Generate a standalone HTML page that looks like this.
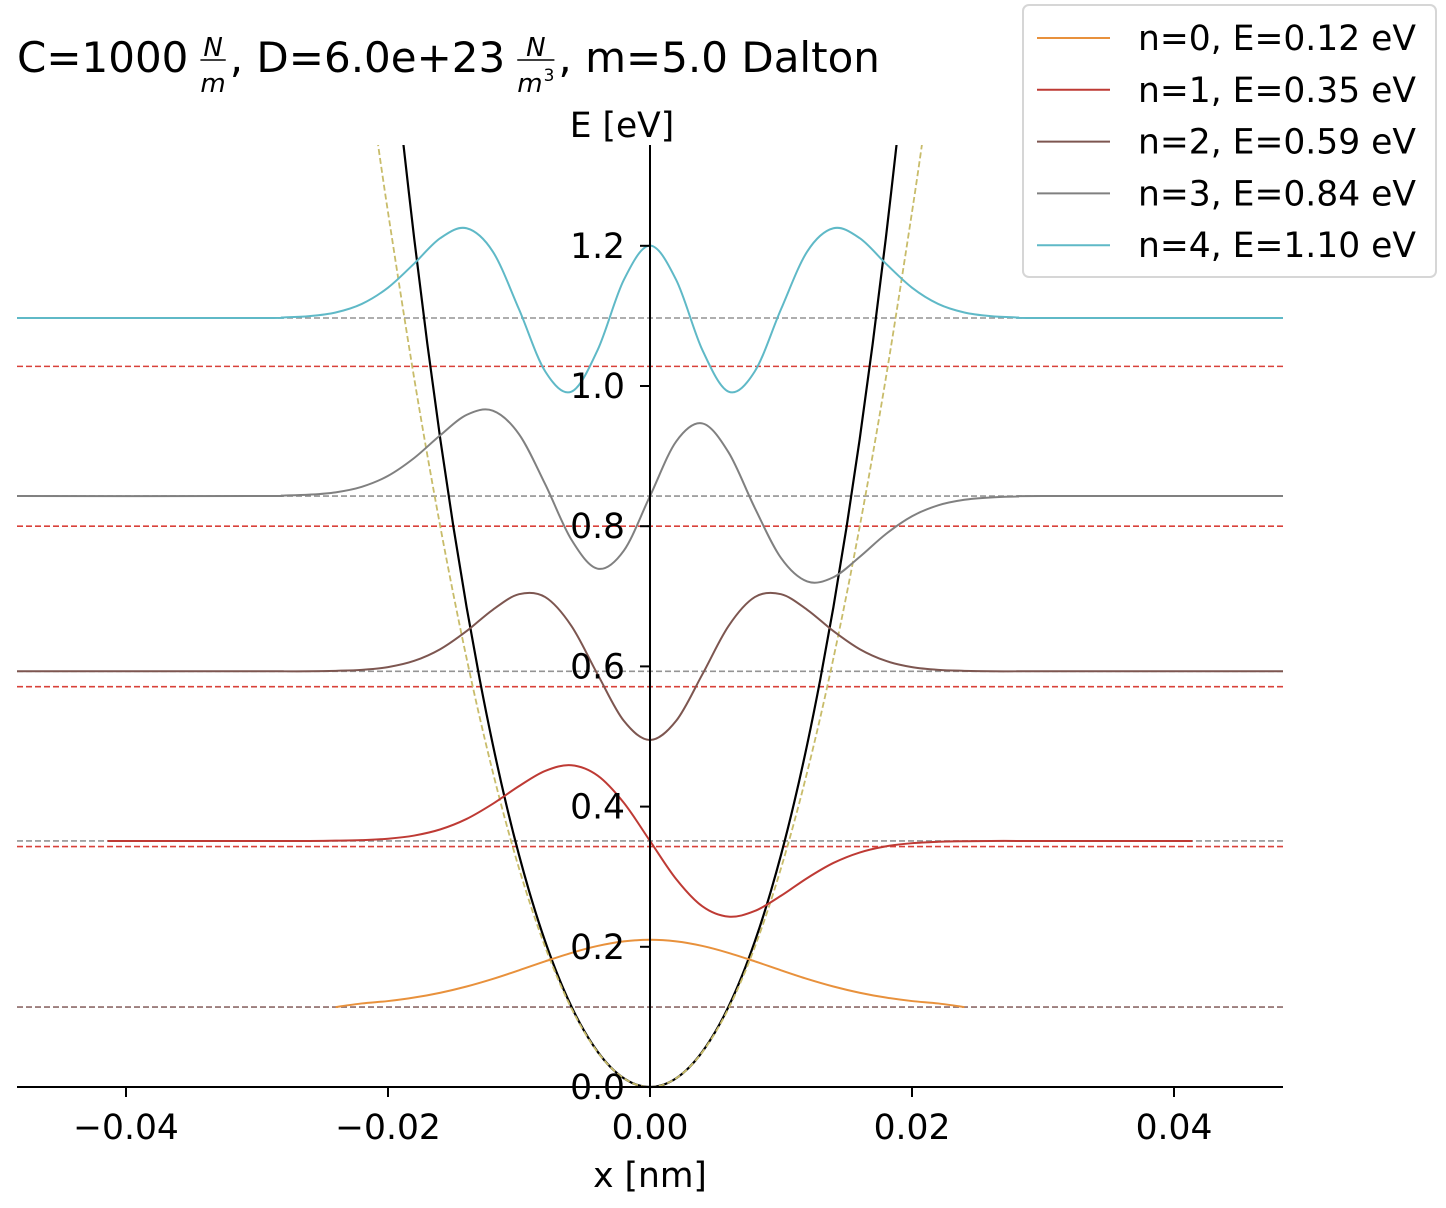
<!DOCTYPE html>
<html><head><meta charset="utf-8"><style>
html,body{margin:0;padding:0;background:#fff;}
svg{display:block;font-family:"DejaVu Sans","Liberation Sans",sans-serif;}
</style></head><body>
<svg id="chart" width="1446" height="1208" viewBox="0 0 1446 1208" xmlns="http://www.w3.org/2000/svg">
<defs><clipPath id="plotclip"><rect x="17" y="145" width="1266" height="950"/></clipPath></defs>
<g id="title"></g>
<g id="plot" clip-path="url(#plotclip)"></g>
<g id="axes"></g>
<g id="legend"></g>
</svg>
<script>
const NS='http://www.w3.org/2000/svg';
// ---- data ----
const levelNames=['n=0, E=0.12 eV','n=1, E=0.35 eV','n=2, E=0.59 eV','n=3, E=0.84 eV','n=4, E=1.10 eV'];
const levelColors=['#e8913c','#be3a34','#7d5650','#808080','#5fb9c7'];
const levelEnergies=[0.114,0.351,0.593,0.843,1.097];
const harmonicLevels=[0.114,0.343,0.571,0.800,1.028];
const waveX=[0,0.002,0.004,0.006,0.008,0.010,0.012,0.014,0.016,0.018,0.020,0.022,0.024,0.026,0.028,0.030];
const wave0=[0.096,0.0937,0.0872,0.0773,0.0653,0.0525,0.0402,0.0294,0.0205,0.0136,0.0086,0.0052,0.003];
const wave1=[0,-0.0545,-0.0933,-0.108,-0.0999,-0.0782,-0.053,-0.0314,-0.0165,-0.0077,-0.0032,-0.0012,-0.0004,0,0,0];
const wave2=[-0.098,-0.0706,-0.0043,0.0648,0.1059,0.110,0.0878,0.0574,0.0317,0.0149,0.006,0.0021,0.0007,0,0,0];
const wave3=[0,0.0779,0.1036,0.0622,-0.0169,-0.0883,-0.1218,-0.1158,-0.0869,-0.0543,-0.0288,-0.0132,-0.0053,-0.002,-0.0007,0];
const wave4=[0.1032,0.0543,-0.0457,-0.1051,-0.0761,0.0125,0.0948,0.128,0.114,0.0777,0.0433,0.0201,0.0079,0.0027,0.0008,0];
const waveSym=[1,-1,1,-1,1]; // parity
const waveExtent=[0.024,0.0414,0.0484,0.0484,0.0484];
const potX=[0,0.001,0.002,0.003,0.004,0.005,0.006,0.007,0.008,0.009,0.010,0.011,0.012,0.013,0.014,0.015,0.016,0.017,0.018,0.019];
const potAnh=[0,0.0031,0.0125,0.0282,0.0504,0.0792,0.1148,0.1575,0.2075,0.2652,0.331,0.4053,0.4887,0.5816,0.6845,0.7982,0.9232,1.0604,1.2104,1.3739];
const harmX=[0,0.002,0.004,0.006,0.008,0.010,0.012,0.014,0.016,0.018,0.020,0.021];
const potHarm=[0,0.0125,0.0499,0.1123,0.1997,0.312,0.4493,0.6115,0.7987,1.0109,1.248,1.376];
const xTicks=[-0.04,-0.02,0,0.02,0.04];
const xTickLabels=['\u22120.04','\u22120.02','0.00','0.02','0.04'];
const yTicks=[0,0.2,0.4,0.6,0.8,1.0,1.2];
const yTickLabels=['0.0','0.2','0.4','0.6','0.8','1.0','1.2'];
// ---- scales ----
const X=v=>650+v*13100;
const Y=v=>1087-v*701;
const FS=34.5;
const plot=document.getElementById('plot'),axes=document.getElementById('axes'),leg=document.getElementById('legend'),ttl=document.getElementById('title');
function mk(tag,attrs,parent){const e=document.createElementNS(NS,tag);for(const k in attrs)e.setAttribute(k,attrs[k]);parent.appendChild(e);return e;}
function smooth(pts){let d='M'+pts[0][0].toFixed(2)+','+pts[0][1].toFixed(2);
 for(let i=0;i<pts.length-1;i++){const p0=pts[i-1]||pts[i],p1=pts[i],p2=pts[i+1],p3=pts[i+2]||p2;
  const c1=[p1[0]+(p2[0]-p0[0])/6,p1[1]+(p2[1]-p0[1])/6],c2=[p2[0]-(p3[0]-p1[0])/6,p2[1]-(p3[1]-p1[1])/6];
  d+='C'+c1[0].toFixed(2)+','+c1[1].toFixed(2)+' '+c2[0].toFixed(2)+','+c2[1].toFixed(2)+' '+p2[0].toFixed(2)+','+p2[1].toFixed(2);}
 return d;}
function symPts(xs,ys,base,par,ext){const pts=[];
 pts.push([X(-ext),Y(base)]);
 for(let i=xs.length-1;i>0;i--){if(i<ys.length&&xs[i]<ext)pts.push([X(-xs[i]),Y(base+par*ys[i])]);}
 for(let i=0;i<ys.length;i++){if(xs[i]<ext)pts.push([X(xs[i]),Y(base+ys[i])]);}
 pts.push([X(ext),Y(base)]);return pts;}
// ---- title (flowed) ----
(function(){
 let cx=17;const by=72,tf=42,ff=26;
 function txt(s){const t=mk('text',{x:cx,y:by,'font-size':tf},ttl);t.textContent=s;cx+=t.getComputedTextLength();}
 function frac(num,den,sup){cx+=12;
  const d=mk('text',{x:cx,y:by+20,'font-size':ff,'font-style':'italic'},ttl);d.textContent=den;
  let w=d.getComputedTextLength();
  if(sup){const s=mk('text',{x:cx+w+1,y:by+9,'font-size':17},ttl);s.textContent=sup;w+=s.getComputedTextLength()+1;}
  const n=mk('text',{x:cx+w/2,y:by-16,'font-size':ff,'font-style':'italic','text-anchor':'middle'},ttl);n.textContent=num;
  mk('line',{x1:cx,x2:cx+w,y1:by-12,y2:by-12,stroke:'#000','stroke-width':1.6},ttl);
  cx+=w+4;}
 txt('C=1000');frac('N','m');txt(', D=6.0e+23');frac('N','m','3');txt(', m=5.0 Dalton');
})();
// harmonic dashed levels (red)
harmonicLevels.forEach((e,i)=>{
 const l=mk('line',{x1:17,x2:1283,y1:Y(e),y2:Y(e),stroke:'#d9413a','stroke-width':1.6,'stroke-dasharray':'6,3'},plot);
 
 
});
// gray dashed energy levels
levelEnergies.forEach((e,i)=>{
 const l=mk('line',{x1:17,x2:1283,y1:Y(e),y2:Y(e),stroke:'#888','stroke-width':1.6,'stroke-dasharray':'6,3','stroke-opacity':0.9},plot);
 
 
});
// potentials
const anh=[];for(let i=potX.length-1;i>0;i--)anh.push([X(-potX[i]),Y(potAnh[i])]);for(let i=0;i<potX.length;i++)anh.push([X(potX[i]),Y(potAnh[i])]);
const pa=mk('path',{d:smooth(anh),fill:'none',stroke:'#000','stroke-width':2.2},plot);


const har=[];for(let i=harmX.length-1;i>0;i--)har.push([X(-harmX[i]),Y(potHarm[i])]);for(let i=0;i<harmX.length;i++)har.push([X(harmX[i]),Y(potHarm[i])]);
const ph=mk('path',{d:smooth(har),fill:'none',stroke:'#c8bc6a','stroke-width':1.8,'stroke-dasharray':'6,3'},plot);


// wavefunctions
const waves=[wave0,wave1,wave2,wave3,wave4];
waves.forEach((w,i)=>{
 const p=mk('path',{d:smooth(symPts(waveX,w,levelEnergies[i],waveSym[i],waveExtent[i])),fill:'none',stroke:levelColors[i],'stroke-width':2},plot);
 
 
});
// axes
const xa=mk('line',{x1:17,x2:1283,y1:1087,y2:1087,stroke:'#000','stroke-width':2},axes);


const ya=mk('line',{x1:650,x2:650,y1:145,y2:1087,stroke:'#000','stroke-width':2},axes);


xTicks.forEach((t,i)=>{
 mk('line',{x1:X(t),x2:X(t),y1:1087,y2:1097,stroke:'#000','stroke-width':2},axes);
 const tx=mk('text',{x:X(t),y:1139,'font-size':FS,'text-anchor':'middle'},axes);tx.textContent=xTickLabels[i];
 
 
});
yTicks.forEach((t,i)=>{
 mk('line',{x1:640,x2:650,y1:Y(t),y2:Y(t),stroke:'#000','stroke-width':2},axes);
 const tx=mk('text',{x:625,y:Y(t)+12,'font-size':FS,'text-anchor':'end'},axes);tx.textContent=yTickLabels[i];
 
 
});
const xl=mk('text',{x:650,y:1187,'font-size':FS,'text-anchor':'middle'},axes);xl.textContent='x [nm]';


const yl=mk('text',{x:622,y:137,'font-size':FS,'text-anchor':'middle'},axes);yl.textContent='E [eV]';


// legend
mk('rect',{x:1023,y:5,width:413,height:272,rx:6,fill:'#fff','fill-opacity':0.85,stroke:'#d6d6d6','stroke-width':2},leg);
levelNames.forEach((n,i)=>{
 const g=mk('g',{},leg);
 
 
 const yy=38+i*51.8;
 mk('line',{x1:1037,x2:1110,y1:yy,y2:yy,stroke:levelColors[i],'stroke-width':2},g);
 const t=mk('text',{x:1138,y:yy+12,'font-size':FS},g);t.textContent=n;
});
</script>
</body></html>
